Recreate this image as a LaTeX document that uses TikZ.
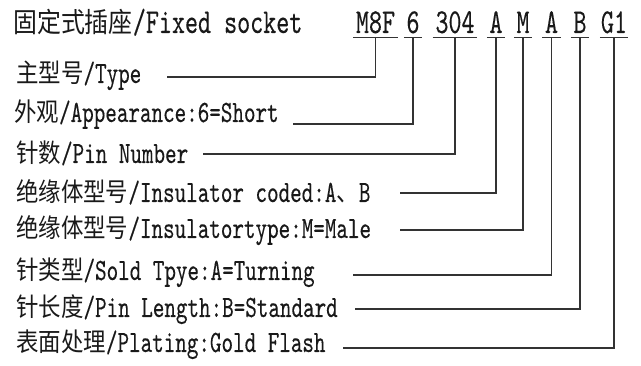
\documentclass[tikz,border=0pt]{standalone}
\usepackage{fontspec}
\usepackage{tikz}

\newfontfamily\cjk{Noto Sans CJK SC}[FakeStretch=0.87]
\newfontfamily\lat{lmmono10-regular}[Extension=.otf,FakeStretch=0.71,FakeBold=0.25]
\newcommand{\zh}{\cjk\fontsize{25.8}{30}\selectfont}
\newcommand{\en}{\lat\fontsize{31}{34}\selectfont}
\newcommand{\zhbig}{\cjk\fontsize{27.5}{32}\selectfont}
\newcommand{\enbig}{\lat\fontsize{35}{38}\selectfont}

\begin{document}
\begin{tikzpicture}[x=1pt,y=-1pt,
		lab/.style={anchor=base west,inner sep=0pt,text=black!90},
		code/.style={anchor=base,inner xsep=2.5pt,inner ysep=0pt,text depth=4pt,text=black!90,font=\enbig},
		lead/.style={line width=1.2pt,black!80}]
		\useasboundingbox (0,0) rectangle (641,366);
		% order code
		\node[lab] (title) at (13,33) {\zhbig 固定式插座\enbig/Fixed socket};
		\node[code] (c0) at (375.5,33) {M8F};
		\node[code] (c1) at (413,33) {6};
		\node[code] (c2) at (455,33) {304};
		\node[code] (c3) at (496,33) {A};
		\node[code] (c4) at (523,33) {M};
		\node[code] (c5) at (551.5,33) {A};
		\node[code] (c6) at (580,33) {B};
		\node[code,inner xsep=1pt] (c7) at (614,33) {G1};
		% meaning of each part
		\node[lab] (l0) at (16,83) {\zh 主型号\en/Type};
		\node[lab] (l1) at (14,122) {\zh 外观\en/Appearance:6=Short};
		\node[lab] (l2) at (16,163) {\zh 针数\en/Pin Number};
		\node[lab] (l3) at (16,202) {\zh 绝缘体型号\en/Insulator coded:A\zh 、\en B};
		\node[lab] (l4) at (16,238) {\zh 绝缘体型号\en/Insulatortype:M=Male};
		\node[lab] (l5) at (16,280) {\zh 针类型\en/Sold Tpye:A=Turning};
		\node[lab] (l6) at (16,317) {\zh 针长度\en/Pin Length:B=Standard};
		\node[lab] (l7) at (16,352) {\zh 表面处理\en/Plating:Gold Flash};
		% where the leaders start
		\coordinate (s0) at (167,77);
		\coordinate (s1) at (293,124);
		\coordinate (s2) at (203,154);
		\coordinate (s3) at (400,193);
		\coordinate (s4) at (400,230);
		\coordinate (s5) at (353,275);
		\coordinate (s6) at (355,309);
		\coordinate (s7) at (343,348);
		\draw[lead] (c0.south west) -- (c0.south east) (s0) -| (c0.south);
		\draw[lead] (c1.south west) -- (c1.south east) (s1) -| (c1.south);
		\draw[lead] (c2.south west) -- (c2.south east) (s2) -| (c2.south);
		\draw[lead] (c3.south west) -- (c3.south east) (s3) -| (c3.south);
		\draw[lead] (c4.south west) -- (c4.south east) (s4) -| (c4.south);
		\draw[lead] (c5.south west) -- (c5.south east) (s5) -| (c5.south);
		\draw[lead] (c6.south west) -- (c6.south east) (s6) -| (c6.south);
		\draw[lead] (c7.south west) -- (c7.south east) (s7) -| (c7.south);
\end{tikzpicture}
\end{document}
